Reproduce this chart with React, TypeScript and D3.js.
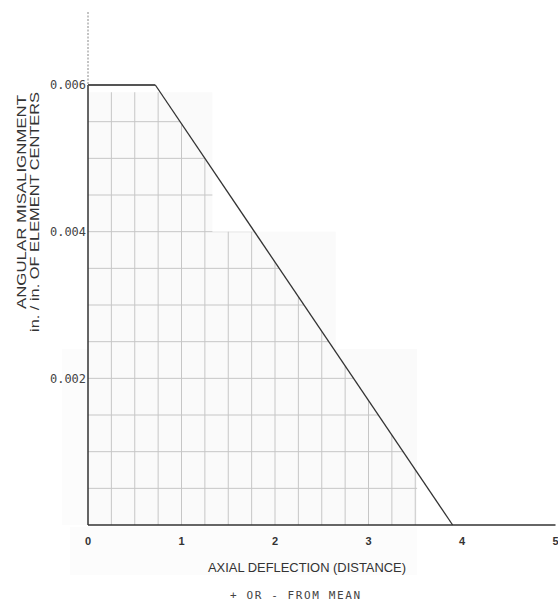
import * as d3 from "d3";

// curve: axial deflection vs allowed angular misalignment
const curveX = [0, 0.72, 3.9];
const curveY = [0.006, 0.006, 0];

const xTicks = [0, 1, 2, 3, 4, 5];
const yTicks = [0.002, 0.004, 0.006];
const yTickLabels = ["0.002", "0.004", "0.006"];

// graph-paper patches (scan): right edge in x units, top edge in y units
const patchRight = [1.33, 2.65, 3.52];
const patchTop = [0.0059, 0.004, 0.0024];

const gridX = d3.range(1, 15).map((i) => i * 0.25);
const gridY = d3.range(1, 12).map((i) => i * 0.0005);

const W = 558;
const H = 601;

export default function App() {
  const x = d3.scaleLinear().domain([0, 5]).range([88, 555.5]);
  const y = d3.scaleLinear().domain([0, 0.006]).range([525, 85]);

  const pts: [number, number][] = curveX.map((v, i) => [v, curveY[i]]);
  const line = d3
    .line<[number, number]>()
    .x((d) => x(d[0]))
    .y((d) => y(d[1]));

  // area under the curve, used to clip the grid
  const area = d3
    .area<[number, number]>()
    .x((d) => x(d[0]))
    .y0(y(0))
    .y1((d) => y(d[1]));

  const patches = patchRight.map((r, i) => ({
    x0: x(0),
    x1: x(r),
    y0: y(patchTop[i]),
    y1: i < patchTop.length - 1 ? y(patchTop[i + 1]) : y(0),
  }));

  const mono = "'DejaVu Sans Mono', monospace";
  const sans = "'Liberation Sans', Arial, sans-serif";

  return (
    <svg
      width={W}
      height={H}
      style={{ position: "absolute", left: 0, top: 0, background: "#fff" }}
    >
      <defs>
        <clipPath id="under">
          <path d={area(pts) ?? ""} />
        </clipPath>
        <clipPath id="paper">
          {patches.map((p, i) => (
            <rect key={i} x={p.x0} y={p.y0} width={p.x1 - p.x0} height={p.y1 - p.y0} />
          ))}
        </clipPath>
      </defs>

      {/* faint scanned paper tint */}
      {patches.map((p, i) => (
        <rect key={i} x={p.x0} y={p.y0} width={p.x1 - p.x0} height={p.y1 - p.y0} fill="#fafafa" />
      ))}
      <rect x={62} y={y(0.0024)} width={x(0) - 62} height={y(0) - y(0.0024)} fill="#fcfcfc" />
      <rect x={70} y={y(0) + 2} width={x(3.52) - 70} height={48} fill="#fcfcfc" />

      <g clipPath="url(#under)">
        <g clipPath="url(#paper)" stroke="#c6c6c6" strokeWidth={1}>
          {gridX.map((v) => (
            <line key={"gx" + v} x1={x(v)} x2={x(v)} y1={y(0.006)} y2={y(0)} />
          ))}
          {gridY.map((v) => (
            <line key={"gy" + v} x1={x(0)} x2={x(5)} y1={y(v)} y2={y(v)} />
          ))}
        </g>
      </g>

      {/* axes */}
      <line x1={x(0)} x2={x(0)} y1={12} y2={y(0.006)} stroke="#888" strokeWidth={1} strokeDasharray="2,1.5" />
      <line x1={x(0)} x2={x(0)} y1={y(0.006)} y2={y(0)} stroke="#333" strokeWidth={1.5} />
      <line x1={x(0)} x2={x(5)} y1={y(0)} y2={y(0)} stroke="#333" strokeWidth={1.5} />

      {/* curve */}
      <path d={line(pts.slice(0, 2)) ?? ""} fill="none" stroke="#555" strokeWidth={2} />
      <path d={line(pts.slice(1)) ?? ""} fill="none" stroke="#333" strokeWidth={1.3} />

      {/* y tick labels */}
      {yTicks.map((v, i) => (
        <text
          key={"yt" + v}
          x={x(0) - 2}
          y={y(v)}
          dy="0.35em"
          textAnchor="end"
          fontFamily={mono}
          fontSize={12}
          fill="#444"
          textLength={36}
          lengthAdjust="spacingAndGlyphs"
        >
          {yTickLabels[i]}
        </text>
      ))}

      {/* x tick labels */}
      {xTicks.map((v) => (
        <text
          key={"xt" + v}
          x={x(v)}
          y={541}
          dy="0.35em"
          textAnchor="middle"
          fontFamily={sans}
          fontWeight="bold"
          fontSize={11}
          fill="#333"
        >
          {v}
        </text>
      ))}

      {/* axis titles */}
      <text
        x={307}
        y={568}
        dy="0.35em"
        textAnchor="middle"
        fontFamily={sans}
        fontSize={12}
        fill="#333"
        textLength={198}
        lengthAdjust="spacingAndGlyphs"
      >
        AXIAL DEFLECTION (DISTANCE)
      </text>
      <text
        x={295}
        y={595}
        dy="0.35em"
        textAnchor="middle"
        fontFamily={mono}
        fontSize={11}
        fill="#444"
        textLength={130}
        lengthAdjust="spacing"
      >
        + OR - FROM MEAN
      </text>
      <g transform="translate(22,202) rotate(-90)">
        <text
          textAnchor="middle"
          dy="0.35em"
          fontFamily={sans}
          fontSize={12}
          fill="#333"
          textLength={214}
          lengthAdjust="spacingAndGlyphs"
        >
          ANGULAR MISALIGNMENT
        </text>
      </g>
      <g transform="translate(35,212) rotate(-90)">
        <text
          textAnchor="middle"
          dy="0.35em"
          fontFamily={sans}
          fontSize={12}
          fill="#333"
          textLength={240}
          lengthAdjust="spacingAndGlyphs"
        >
          in. / in.  OF ELEMENT CENTERS
        </text>
      </g>
    </svg>
  );
}
